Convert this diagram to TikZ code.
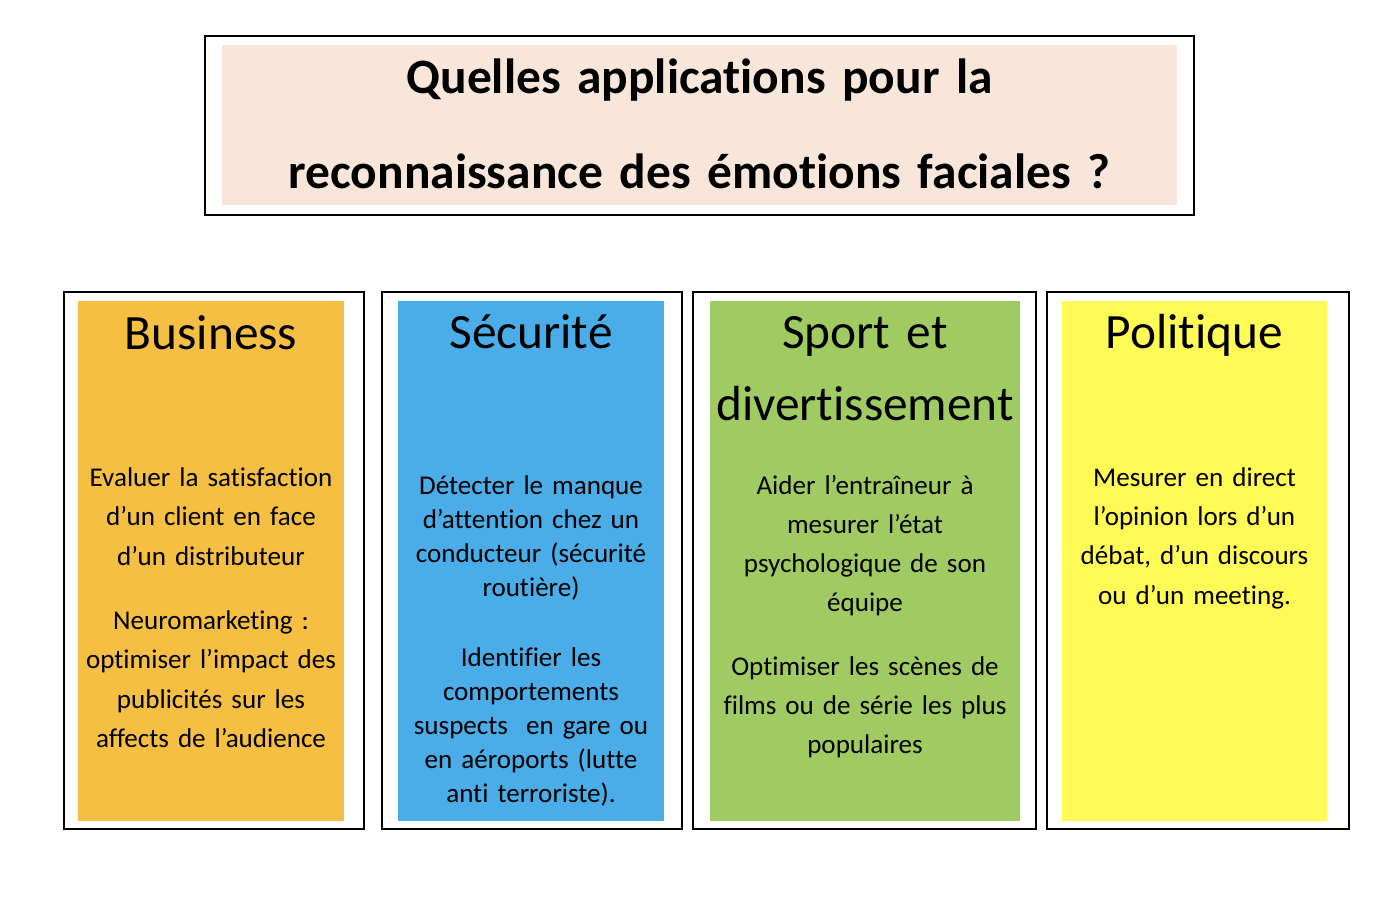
\documentclass[tikz,border=0pt]{standalone}
\usepackage{fontspec}
\setmainfont{Carlito}[Ligatures={NoCommon,TeX}]
\definecolor{titlefill}{HTML}{F9E6DA}
\definecolor{bizfill}{HTML}{F4BF43}
\definecolor{secfill}{HTML}{4BADE8}
\definecolor{sportfill}{HTML}{A0CB63}
\definecolor{polfill}{HTML}{FFFA55}
\begin{document}
\begin{tikzpicture}[x=0.75pt,y=-0.75pt,
  frame/.style={draw, line width=1.5pt},
  heading/.style={anchor=base, inner sep=0pt, text width=300pt, align=center, font=\fontsize{37}{54}\selectfont},
  bodytext/.style={anchor=base, inner sep=0pt, text width=230pt, align=center}]
\useasboundingbox (0,0) rectangle (1390,924);

% title
\fill[titlefill] (222,45) rectangle (1177,205);
\draw[frame] (205,36.5) rectangle (1194,214.5);
\node[anchor=base, inner sep=0pt, text width=700pt, align=center, font=\bfseries\fontsize{37.1}{71.25}\selectfont] (title) at (699.5,93.3) {Quelles applications pour la\\reconnaissance des émotions faciales ?};

% colored fields
\fill[bizfill] (78,301) rectangle (344,821);
\fill[secfill] (398,301) rectangle (664,821);
\fill[sportfill] (710,301) rectangle (1020,821);
\fill[polfill] (1062,301) rectangle (1327,821);

% frames
\draw[frame] (63.5,292) rectangle (364,828.5);
\draw[frame] (381.5,292) rectangle (682,828.5);
\draw[frame] (692.5,292) rectangle (1036,828.5);
\draw[frame] (1046.5,292) rectangle (1348.5,828.5);

% headings
\node[heading] (biz) at (211,349.5) {Business};
\node[heading] (sec) at (531,348) {Sécurité};
\node[heading] (sport) at (865,348) {Sport et\\divertissement};
\node[heading] (pol) at (1194.5,348) {Politique};

% texts
\node[bodytext, font=\fontsize{20.3}{29.6}\selectfont] (biztext) at (211,486.5)
  {Evaluer la satisfaction\\d’un client en face\\d’un distributeur\\[18.4pt]
   Neuromarketing :\\optimiser l’impact des\\publicités sur les\\affects de l’audience};
\node[bodytext, font=\fontsize{20.3}{25.5}\selectfont] (sectext) at (531,494.5)
  {Détecter le manque\\d’attention chez un\\conducteur (sécurité\\routière)\\[27pt]
   Identifier les\\comportements\\suspects~ en gare ou\\en aéroports (lutte\\anti terroriste).};
\node[bodytext, font=\fontsize{20.3}{29.3}\selectfont] (sporttext) at (865,494)
  {Aider l’entraîneur à\\mesurer l’état\\psychologique de son\\équipe\\[18.75pt]
   Optimiser les scènes de\\films ou de série les plus\\populaires};
\node[bodytext, font=\fontsize{20.3}{29.5}\selectfont] (poltext) at (1194.5,486.3)
  {Mesurer en direct\\l’opinion lors d’un\\débat, d’un discours\\ou d’un meeting.};
\end{tikzpicture}
\end{document}
